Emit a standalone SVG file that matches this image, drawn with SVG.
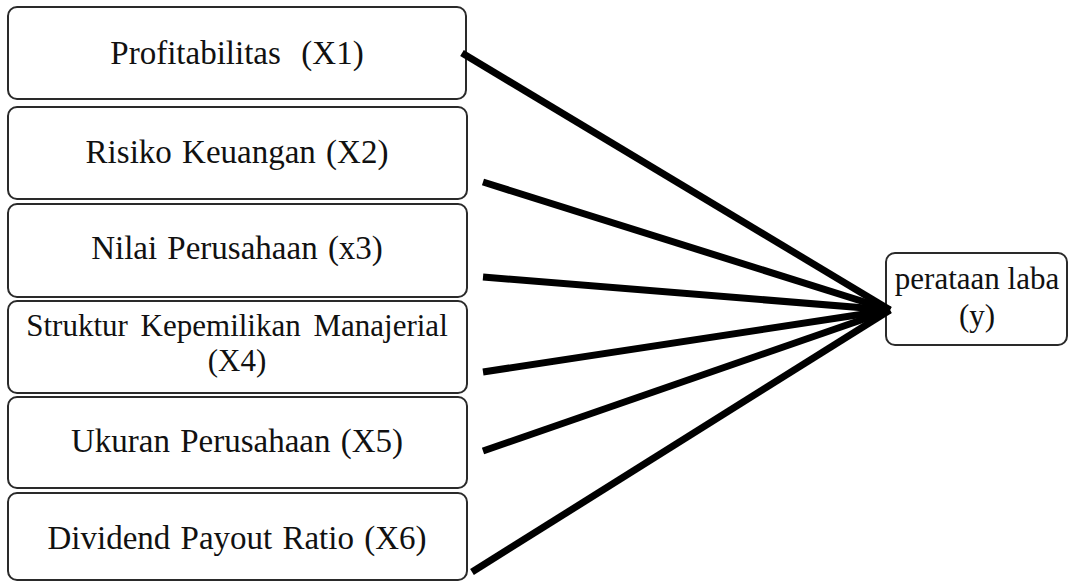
<svg xmlns="http://www.w3.org/2000/svg" width="1068" height="582" viewBox="0 0 1068 582">
<style>
.box{fill:#fff;stroke:#2a2a2a;stroke-width:2}
.t{font-family:"Liberation Serif","Times New Roman",serif;font-size:33px;word-spacing:2px;fill:#111;text-anchor:middle}
.s{font-size:31px;word-spacing:5px}
.c{stroke:#000;stroke-width:7;stroke-linecap:butt;fill:none}
</style>
<rect width="1068" height="582" fill="#fff"/>
<g id="x1"><rect class="box" x="8" y="7" width="458" height="92" rx="9"/><text class="t" x="237" y="64" xml:space="preserve">Profitabilitas  (X1)</text></g>
<g id="x2"><rect class="box" x="8" y="107" width="459" height="92" rx="9"/><text class="t" x="237" y="163">Risiko Keuangan (X2)</text></g>
<g id="x3"><rect class="box" x="8" y="204" width="459" height="93" rx="9"/><text class="t" x="237" y="259">Nilai Perusahaan (x3)</text></g>
<g id="x4"><rect class="box" x="8" y="301" width="459" height="92" rx="9"/><text class="t s" x="237" y="336">Struktur Kepemilikan Manajerial</text><text class="t s" x="237" y="371">(X4)</text></g>
<g id="x5"><rect class="box" x="8" y="397" width="459" height="91" rx="9"/><text class="t" x="237" y="452">Ukuran Perusahaan (X5)</text></g>
<g id="x6"><rect class="box" x="8" y="493" width="459" height="87" rx="9"/><text class="t" x="237" y="549">Dividend Payout Ratio (X6)</text></g>
<g id="y"><rect class="box" x="886" y="253" width="181" height="92" rx="9"/><text class="t s" x="977" y="289" style="word-spacing:0">perataan laba</text><text class="t s" x="977" y="326">(y)</text></g>
<g id="connectors">
<line class="c" x1="462" y1="53" x2="890" y2="310"/>
<line class="c" x1="483" y1="182" x2="890" y2="310"/>
<line class="c" x1="483" y1="277" x2="890" y2="310"/>
<line class="c" x1="483" y1="372" x2="890" y2="310"/>
<line class="c" x1="483" y1="451" x2="890" y2="310"/>
<line class="c" x1="472" y1="572" x2="890" y2="310"/>
</g>
</svg>
